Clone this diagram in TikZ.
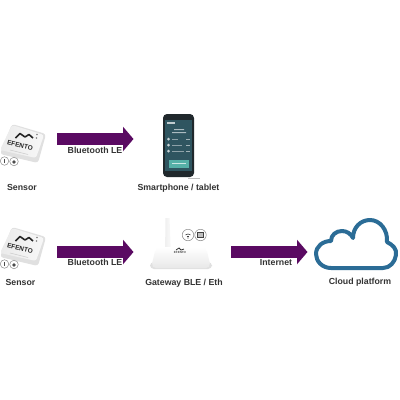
\documentclass[tikz,border=0pt]{standalone}
\usepackage{fontspec}
\setmainfont{Liberation Sans}
\usetikzlibrary{arrows.meta}
\definecolor{plum}{HTML}{5A0A62}
\definecolor{cloudblue}{HTML}{2B6C96}
\definecolor{labelgray}{HTML}{333333}
\definecolor{phonedark}{HTML}{20282C}
\definecolor{screenteal}{HTML}{2F5560}
\definecolor{buttonteal}{HTML}{56B0A8}
\tikzset{
  x=1bp,y=-1bp,
  lab/.style={font=\bfseries\fontsize{8.8}{10}\selectfont,text=labelgray,inner sep=0pt,anchor=center},
  flow/.style={line width=11.5bp,plum,-{Triangle[length=10.5bp,width=24bp]},shorten >=0bp},
  badge/.style={circle,draw=black!45,line width=.5bp,fill=white,minimum size=#1,inner sep=0pt},
  sensorbody/.style={left color=black!8,right color=black!3,rounded corners=2.5bp},
}
\newcommand{\sensordev}[2]{%
  \begin{scope}[shift={(#1,#2)}]
    \fill[black!12,rounded corners=3bp] (0,29) -- (12,-1) -- (46,9) -- (38,38) -- cycle;
    \path[sensorbody] (0,25) -- (12,0) -- (44,10) -- (36,33) -- cycle;
    \draw[black!85,line width=1.6bp,line join=round] (15.5,13) -- (20,8.5) -- (25,12) -- (29,9.5) -- (33,13);
    \node[rotate=-14,font=\bfseries\fontsize{6.5}{7}\selectfont,text=black!85,inner sep=0pt] (#1#2t) at (20,20) {EFENTO};
    \draw[black!20,line width=.5bp] (10,25) -- (28,29.5);
    \node[badge=8.5bp] at (4.5,36) {}; \fill[black!70] (4.1,33.5) rectangle (5,38);
    \node[badge=8.5bp] at (14,36.5) {}; \fill[black!70] (14,37) circle (1.8bp);
    \fill[black!50] (37,9.5) circle (.8bp) (36.5,13) circle (.8bp);
  \end{scope}}
\begin{document}
\begin{tikzpicture}
\useasboundingbox (0,0) rectangle (400,400);
\fill[white] (0,0) rectangle (400,400);

% sensors
\sensordev{0}{125}
\sensordev{0}{228}

% phone
\fill[phonedark,rounded corners=4bp] (163,114) rectangle (194,177);
\fill[screenteal] (165,120) rectangle (192,171);
\fill[white!70!screenteal] (167,122) rectangle (175,123.5);
\fill[white!60!screenteal] (174,129) rectangle (184,130) (172,132) rectangle (186,133);
\foreach \yy/\xx in {139/178,145/182,151/184}{
  \fill[white!75!screenteal] (168.5,\yy) circle (1.5bp);
  \fill[white!45!screenteal] (172,\yy-.5) rectangle (\xx,\yy+.5);
  \fill[white!55!screenteal] (186,\yy-.5) rectangle (190,\yy+.5);
}
\fill[buttonteal] (169,160) rectangle (189,168);
\fill[white!70!buttonteal] (172,163) rectangle (186,164);
\fill[black!25] (188,178) rectangle (200,178.5);

% gateway
\shade[left color=black!6,right color=black!2] (165.5,218) -- (169.5,218) -- (171,256) -- (165,256) -- cycle;
\fill[black!12,rounded corners=4bp] (150,262) rectangle (212,269);
\shade[top color=white,bottom color=black!9,rounded corners=5bp] (151,268) -- (156,247) -- (206,247) -- (211,268) -- cycle;
\draw[black!80,line width=.8bp] (176,250) -- (179,248) -- (181,250) -- (184,249);
\node[font=\bfseries\fontsize{3}{3}\selectfont,text=black!70,inner sep=0pt] (gwlogo) at (180,252.5) {EFENTO};
\node[badge=11.5bp] (wifi) at (188,235) {};
\node[badge=11.5bp] (eth) at (200.5,235) {};
\draw[black!75,line width=.6bp] (185.43,234.94) arc[start angle=230,end angle=310,radius=4];
\draw[black!75,line width=.6bp] (186.59,236.31) arc[start angle=230,end angle=310,radius=2.2];
\fill[black!75] (188,238) circle (.7bp);
\draw[black!75,line width=.8bp,fill=black!25] (197.5,232.5) rectangle (203.5,237.5);

% cloud
\draw[cloudblue,line width=4bp,line join=round,fill=white]
  (331,268) .. controls (322,268) and (316,261) .. (316,254)
  .. controls (316,246) and (323,241) .. (331,241)
  .. controls (331,235) and (336,231) .. (342,231)
  .. controls (347,231) and (351,234) .. (353,238)
  .. controls (353,227) and (361,220) .. (370,220)
  .. controls (380,220) and (388,230) .. (387,242)
  .. controls (393,245) and (397,249) .. (396,255)
  .. controls (395,262) and (390,268) .. (383,268)
  -- cycle;

% connectors
\coordinate (s1) at (57,139);
\coordinate (p1) at (133.5,139);
\coordinate (s2) at (57,252);
\coordinate (g2) at (133.5,252);
\coordinate (g3) at (231,252);
\coordinate (c3) at (307.5,252);
\draw[flow] (s1) -- (p1);
\draw[flow] (s2) -- (g2);
\draw[flow] (g3) -- (c3);

% labels
\node[lab] (l1) at (22,187) {Sensor};
\node[lab] (l2) at (178.5,188) {Smartphone / tablet};
\node[lab] (l3) at (20.5,282) {Sensor};
\node[lab] (l4) at (184,283) {Gateway BLE / Eth};
\node[lab] (l5) at (360,282) {Cloud platform};
\node[lab] (l6) at (95,150) {Bluetooth LE};
\node[lab] (l7) at (95,262) {Bluetooth LE};
\node[lab] (l8) at (276,263) {Internet};
\end{tikzpicture}
\end{document}
